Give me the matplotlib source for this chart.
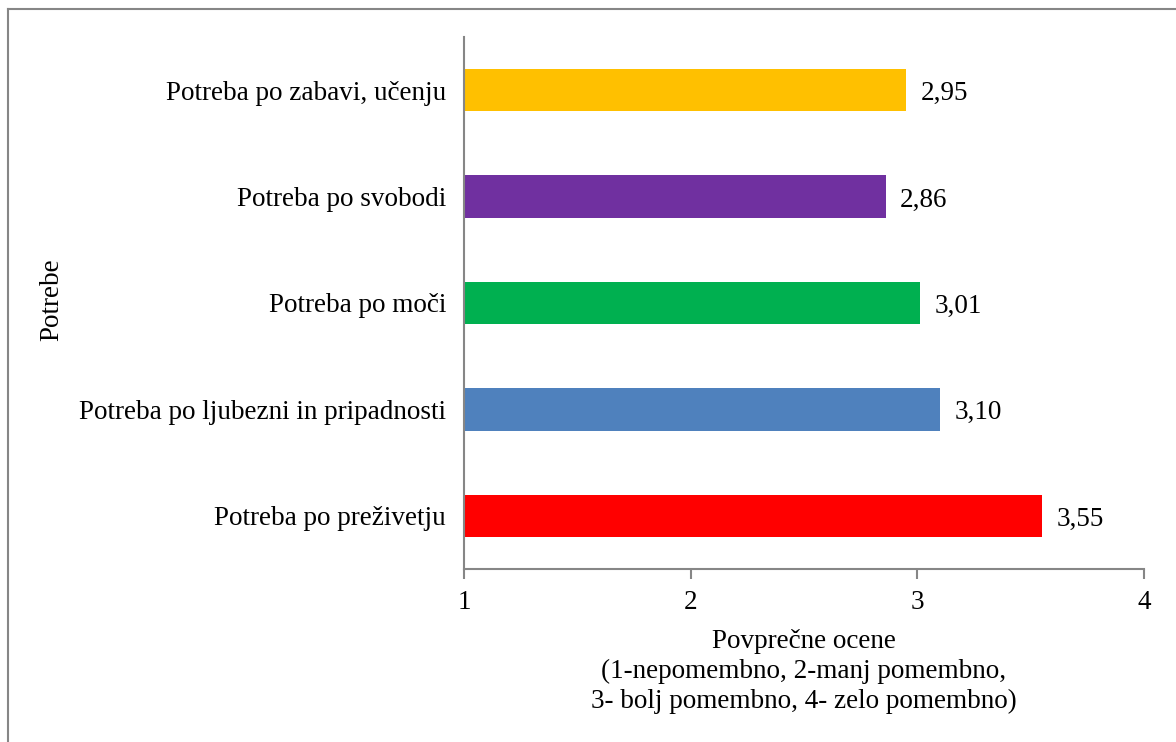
import matplotlib.pyplot as plt
from matplotlib.lines import Line2D

categories = ["Potreba po preživetju", "Potreba po ljubezni in pripadnosti",
              "Potreba po moči", "Potreba po svobodi", "Potreba po zabavi, učenju"]
values = [3.55, 3.10, 3.01, 2.86, 2.95]
labels = ["3,55", "3,10", "3,01", "2,86", "2,95"]
colors = ["#FF0000", "#4F81BD", "#00B050", "#7030A0", "#FFC000"]
xticks = [1, 2, 3, 4]

plt.rcParams['font.family'] = ['Liberation Serif', 'DejaVu Serif']
FS = 19.5

fig = plt.figure(figsize=(11.76, 7.42), dpi=100)
ax = fig.add_axes([464/1176, 1-569/742, (1144-464)/1176, (569-37)/742])

y = range(len(categories))
ax.barh(y, [v - 1 for v in values], left=1, height=0.40, color=colors)
for yi, v, lab in zip(y, values, labels):
    ax.annotate(lab, (v, yi), xytext=(10.5, -2.5), textcoords='offset points',
                va='center', ha='left', fontsize=FS)

ax.set_xlim(1, 4)
ax.set_ylim(-0.5, 4.5)
ax.set_xticks(xticks)
ax.set_xticklabels([str(t) for t in xticks], fontsize=FS)
ax.set_yticks(list(y))
ax.set_yticklabels(categories, fontsize=FS)
ax.tick_params(axis='y', length=0, pad=13)
ax.tick_params(axis='x', length=7, width=1.5, color='#868686', pad=8)
for s in ['top', 'right']:
    ax.spines[s].set_visible(False)
for s in ['left', 'bottom']:
    ax.spines[s].set_color('#868686')
    ax.spines[s].set_linewidth(1.5)

ax.set_xlabel("Povprečne ocene\n(1-nepomembno, 2-manj pomembno,\n3- bolj pomembno, 4- zelo pomembno)",
              fontsize=FS, labelpad=10, linespacing=1.27)
fig.text(52/1176, 1-300/742, "Potrebe", rotation=90, fontsize=FS, ha='center', va='center')

# outer frame (top and left visible)
fig.add_artist(Line2D([8/1176, 1], [1-9/742, 1-9/742], color='#868686', lw=1.5, transform=fig.transFigure))
fig.add_artist(Line2D([8/1176, 8/1176], [0, 1-9/742], color='#868686', lw=1.5, transform=fig.transFigure))

fig.savefig("out.png", dpi=100)
